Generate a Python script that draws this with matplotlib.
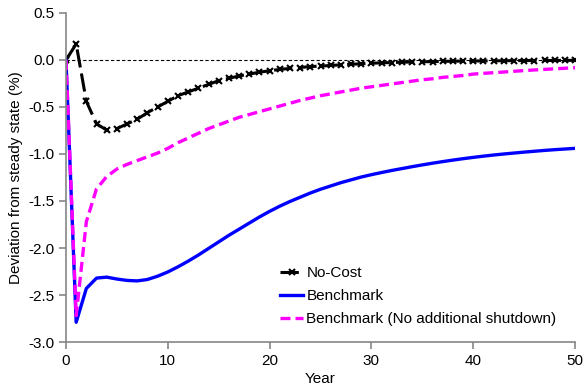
import matplotlib.pyplot as plt

plt.rcParams['font.family'] = ['Liberation Sans', 'DejaVu Sans']

# Years 0..50
years = list(range(0, 51))

# No-Cost (% deviation from steady state)
no_cost = [0.0, 0.17, -0.44, -0.68, -0.745, -0.73, -0.68, -0.63, -0.56, -0.50,
           -0.44, -0.38, -0.34, -0.30, -0.26, -0.22, -0.195, -0.17, -0.15, -0.13,
           -0.115, -0.10, -0.09, -0.08, -0.07, -0.065, -0.058, -0.052, -0.046, -0.04,
           -0.035, -0.03, -0.027, -0.024, -0.021, -0.019, -0.017, -0.015, -0.013, -0.012,
           -0.011, -0.010, -0.009, -0.008, -0.007, -0.006, -0.006, -0.005, -0.005, -0.004,
           -0.004]

# Benchmark
benchmark = [0.0, -2.79, -2.43, -2.32, -2.31, -2.33, -2.345, -2.35, -2.335, -2.30,
             -2.255, -2.20, -2.14, -2.075, -2.005, -1.935, -1.865, -1.80, -1.735, -1.67,
             -1.61, -1.555, -1.505, -1.46, -1.415, -1.375, -1.34, -1.305, -1.275, -1.245,
             -1.22, -1.197, -1.175, -1.155, -1.135, -1.116, -1.098, -1.081, -1.065, -1.05,
             -1.036, -1.023, -1.011, -1.0, -0.99, -0.98, -0.971, -0.962, -0.954, -0.947,
             -0.94]

# Benchmark (No additional shutdown)
benchmark_nas = [0.0, -2.72, -1.72, -1.37, -1.24, -1.16, -1.11, -1.07, -1.03, -0.99,
                 -0.94, -0.88, -0.83, -0.78, -0.73, -0.69, -0.65, -0.61, -0.58, -0.55,
                 -0.52, -0.49, -0.46, -0.43, -0.405, -0.38, -0.36, -0.34, -0.32, -0.30,
                 -0.285, -0.27, -0.255, -0.24, -0.225, -0.21, -0.20, -0.185, -0.175, -0.165,
                 -0.15, -0.142, -0.135, -0.128, -0.12, -0.113, -0.106, -0.10, -0.094, -0.088,
                 -0.082]

fig = plt.figure(figsize=(5.85, 3.91), dpi=100)
ax = fig.add_axes([0.1128, 0.1253, 0.8702, 0.8415])

# zero reference line
ax.plot([0, 50], [0, 0], color='black', linestyle=(0, (3, 2)), linewidth=0.8)

ax.plot(years, no_cost, color='black', linestyle=(0, (6, 2)), linewidth=2.2,
        marker='x', markersize=4, markeredgewidth=1.5, label='No-Cost')
ax.plot(years, benchmark, color='#0000FF', linewidth=2.4, label='Benchmark')
ax.plot(years, benchmark_nas, color='#FF00FF', linestyle=(0, (3, 1.5)), linewidth=2.4,
        label='Benchmark (No additional shutdown)')

ax.set_xlim(0, 50)
ax.set_ylim(-3.0, 0.5)
ax.set_xticks([0, 10, 20, 30, 40, 50])
ax.set_yticks([0.5, 0.0, -0.5, -1.0, -1.5, -2.0, -2.5, -3.0])
ax.set_yticklabels(['0.5', '0.0', '-0.5', '-1.0', '-1.5', '-2.0', '-2.5', '-3.0'])

for side in ['top', 'right']:
    ax.spines[side].set_visible(False)
for side in ['left', 'bottom']:
    ax.spines[side].set_color('#868686')
    ax.spines[side].set_linewidth(1.2)
ax.tick_params(direction='out', length=5, width=1.2, color='#868686',
               labelsize=11, labelcolor='black')

ax.set_xlabel('Year', fontsize=11, labelpad=3)
ax.set_ylabel('Deviation from steady state (%)', fontsize=11, labelpad=4)

ax.legend(loc='lower left', bbox_to_anchor=(0.40, 0.015), frameon=False, fontsize=11,
          handlelength=1.5, handletextpad=0.2, labelspacing=0.6, borderpad=0.2)

fig.savefig('out.png', dpi=100)
